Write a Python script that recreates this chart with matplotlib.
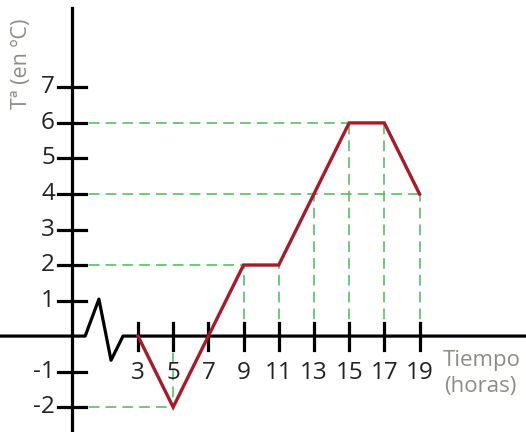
import matplotlib
matplotlib.use("Agg")
import matplotlib.pyplot as plt

# red temperature line
times = [3, 5, 9, 11, 15, 17, 19]
temps = [0, -2, 2, 2, 6, 6, 4]

# axis ticks
x_ticks = [3, 5, 7, 9, 11, 13, 15, 17, 19]
y_ticks = [-2, -1, 1, 2, 3, 4, 5, 6, 7]

# green dashed guides
h_levels = [-2, 2, 4, 6]
h_ends = [5, 9, 19, 15]
v_times = [5, 9, 11, 13, 15, 17, 19]
v_tops = [-2, 2, 2, 4, 6, 6, 4]

# axis break zigzag (between 0 and 3 hours)
break_x = [0, 0.78, 1.47, 2.15]
break_y = [0, 1.04, -0.68, 0]

y_axis_x = -0.75
plt.rcParams['font.family'] = ['Open Sans', 'DejaVu Sans']

fig = plt.figure(figsize=(5.26, 4.32), dpi=100)
ax = fig.add_axes([0, 0, 1, 1])
ax.set_xlim(-4.84, 25.05)
ax.set_ylim(-2.70, 9.46)
ax.axis('off')

green = '#4cb85a'
for lvl, end in zip(h_levels, h_ends):
    ax.plot([y_axis_x, end], [lvl, lvl], color=green, lw=1.1, dashes=(7, 4), zorder=1)
for t, top in zip(v_times, v_tops):
    ax.plot([t, t], [0, top], color=green, lw=1.1, dashes=(7, 4), zorder=1)

# axes
ax.plot([-4.84, y_axis_x] + break_x + [25.05], [0, 0] + break_y + [0], color='black', lw=2.3, zorder=3)
ax.plot([y_axis_x, y_axis_x], [-2.70, 9.24], color='black', lw=2.3, zorder=3)

for t in x_ticks:
    ax.plot([t, t], [-0.38, 0.38], color='black', lw=2.3, zorder=3)
    ax.text(t, -1.05, str(t), ha='center', va='center', fontsize=17.5, color='#222222')
for v in y_ticks:
    ax.plot([y_axis_x - 0.8, y_axis_x + 0.8], [v, v], color='black', lw=2.3, zorder=3)
    ax.text(-1.72, v, str(v), ha='right', va='center', fontsize=17.5, color='#222222')

ax.plot(times, temps, color='#a8192a', lw=2.4, zorder=4, solid_joinstyle='miter')

gray = '#8d8d85'
ax.text(-3.6, 7.65, 'Tª (en ºC)', rotation=90, ha='center', va='center', fontsize=15.5, color=gray)
ax.text(20.3, -0.7, 'Tiempo', ha='left', va='center', fontsize=16, color=gray)
ax.text(20.4, -1.42, '(horas)', ha='left', va='center', fontsize=16, color=gray)

fig.savefig('out.png', dpi=100)
